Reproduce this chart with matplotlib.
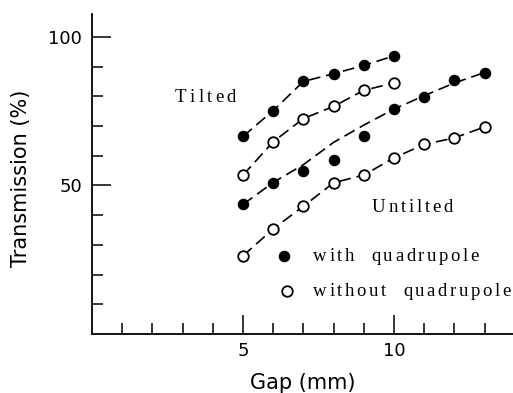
import matplotlib
matplotlib.use("Agg")
import matplotlib.pyplot as plt

gap = [5, 6, 7, 8, 9, 10, 11, 12, 13]
tilted_with = [66.5, 75.2, 85.0, 87.6, 90.4, 93.6]
tilted_without = [53.5, 64.7, 72.5, 76.6, 82.0, 84.5]
untilted_with = [43.6, 50.9, 54.8, 58.7, 66.8, 75.7, 79.8, 85.6, 88.0]
untilted_with_fit = [43.6, 51.0, 57.0, 64.5, 70.3, 75.7, 80.2, 84.5, 88.0]
untilted_without = [26.3, 35.4, 43.0, 50.9, 53.5, 59.3, 63.8, 66.0, 69.7]

DPI = 100
fig = plt.figure(figsize=(5.13, 3.93), dpi=DPI)
ax = fig.add_axes([92/513, 59/393, 421/513, 320/393])

dash = (0, (7, 3.5))
lw = 1.2
ms = 7

def series(x, y, filled, fit=None):
    ax.plot(x, fit if fit is not None else y, color='black', lw=lw, linestyle=dash, zorder=2)
    ax.plot(x, y, linestyle='none', marker='o', ms=ms if filled else ms + 0.6,
            mfc='black' if filled else 'white', mec='black', mew=1.3, zorder=3)

series(gap[:6], tilted_with, True)
series(gap[:6], tilted_without, False)
series(gap, untilted_with, True, fit=untilted_with_fit)
series(gap, untilted_without, False)

ax.set_xlim(0, 13.94)
ax.set_ylim(0, 107.7)
for s in ['top', 'right']:
    ax.spines[s].set_visible(False)
for s in ['left', 'bottom']:
    ax.spines[s].set_linewidth(1.3)

ax.set_xticks([5, 10])
ax.set_xticklabels(['5', '10'])
ax.set_xticks(range(1, 14), minor=True)
ax.set_yticks([50, 100])
ax.set_yticklabels(['50', '100'])
ax.set_yticks(range(10, 101, 10), minor=True)
ax.tick_params(which='major', direction='in', length=14, width=1.1, labelsize=13)
ax.tick_params(which='minor', direction='in', length=8, width=1.1)
ax.tick_params(axis='x', which='major', pad=6)
ax.tick_params(axis='y', which='major', pad=7)

ax.text(0.5, -0.153, 'Gap (mm)', transform=ax.transAxes, fontsize=15,
        ha='center', va='center')
ax.text(-0.168, 0.4875, 'Transmission (%)', transform=ax.transAxes, fontsize=15,
        rotation=90, ha='center', va='center')

serif = 'Liberation Serif'
fig.canvas.draw()
renderer = fig.canvas.get_renderer()

def spaced_text(x, y, s, size, spacing_px):
    off = 0.0
    for ch in s:
        if ch == ' ':
            off += size * DPI / 72 * 0.25 + spacing_px
            continue
        t = ax.annotate(ch, xy=(x, y), xytext=(off * 72 / DPI, 0),
                        textcoords='offset points', fontsize=size,
                        family=serif, ha='left', va='center')
        w = t.get_window_extent(renderer).width
        off += w + spacing_px

spaced_text(2.75, 79.7, 'Tilted', 13.5, 3.2)
spaced_text(9.27, 42.6, 'Untilted', 13.5, 2.8)
ax.plot([6.36], [26.2], 'o', ms=ms, mfc='black', mec='black', mew=1.3, clip_on=False)
ax.plot([6.46], [14.4], 'o', ms=ms + 0.6, mfc='white', mec='black', mew=1.3, clip_on=False)
spaced_text(7.32, 26.2, 'with  quadrupole', 13.5, 2.6)
spaced_text(7.32, 14.4, 'without  quadrupole', 13.5, 2.6)

fig.savefig('out.png', dpi=DPI)
